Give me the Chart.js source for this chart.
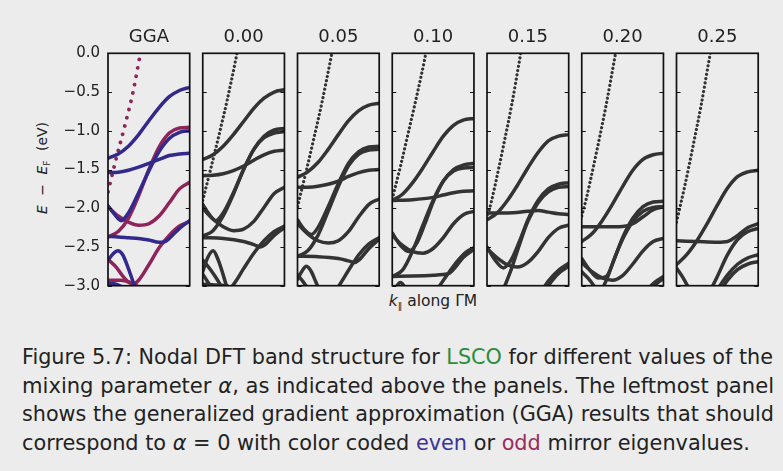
<!DOCTYPE html>
<html>
<head>
<meta charset="utf-8">
<script src="https://cdn.jsdelivr.net/npm/chart.js@4.4.0/dist/chart.umd.min.js"></script>
<style>
    body { margin: 0; background: #ececec; width: 783px; height: 471px; overflow: hidden; position: relative; font-family: "DejaVu Sans", sans-serif; color: #222; }
    canvas.panel { position: absolute; left: 0; top: 0; pointer-events: none; }
    .lab { position: absolute; white-space: nowrap; transform: translate(-50%, -50%); }
    #ylab { left: 43px; top: 168px; transform: translate(-50%, -50%) rotate(-90deg); font-size: 14px; word-spacing: 5px; }
    #xlab { left: 433px; top: 301px; font-size: 15.5px; }
    sub { font-size: 9px; vertical-align: -3px; font-family: "DejaVu Sans", sans-serif; color: #222; }
    #caption { position: absolute; left: 0; top: 0; }
</style>
</head>
<body>
<div id="ylab" class="lab"><i>E</i> − <i>E</i><sub>F</sub> (eV)</div>
<div id="xlab" class="lab"><i>k</i><sub>‖</sub> along ΓM</div>
<svg id="caption" width="783" height="471" font-family="'Liberation Sans Narrow', 'DejaVu Sans', sans-serif" font-size="22" fill="#222">
    <text x="22" y="364" textLength="751" lengthAdjust="spacingAndGlyphs">Figure 5.7: Nodal DFT band structure for <tspan fill="#2e8b3c">LSCO</tspan> for different values of the</text>
    <text x="22" y="393" textLength="752" lengthAdjust="spacingAndGlyphs">mixing parameter <tspan font-style="italic">α</tspan>, as indicated above the panels.  The leftmost panel</text>
    <text x="22" y="421" textLength="752" lengthAdjust="spacingAndGlyphs">shows the generalized gradient approximation (GGA) results that should</text>
    <text x="22" y="450" textLength="728" lengthAdjust="spacingAndGlyphs">correspond to <tspan font-style="italic">α</tspan> = 0 with color coded <tspan fill="#3b3399">even</tspan> or <tspan fill="#9a2b5c">odd</tspan> mirror eigenvalues.</text>
</svg>

<script>
// panel titles and energy ticks
const panelTitles = ['GGA', '0.00', '0.05', '0.10', '0.15', '0.20', '0.25'];
const yTicks = [0, -0.5, -1.0, -1.5, -2.0, -2.5, -3.0];

// bands as [k, E] pairs, k from Gamma (0) to M (1), E - E_F in eV
const ggaEven = [
    [[0,-1.355],[0.125,-1.3],[0.25,-1.2],[0.375,-1.05],[0.5,-0.87],[0.625,-0.7],[0.75,-0.56],[0.875,-0.48],[1,-0.44]],
    [[0,-1.54],[0.125,-1.535],[0.25,-1.51],[0.375,-1.47],[0.5,-1.42],[0.625,-1.37],[0.75,-1.32],[0.875,-1.3],[1,-1.29]],
    [[0,-1.97],[0.08,-2.08],[0.16,-2.16],[0.25,-2.06],[0.375,-1.8],[0.5,-1.52],[0.625,-1.27],[0.75,-1.1],[0.875,-1.02],[1,-1.0]],
    [[0,-2.365],[0.125,-2.37],[0.25,-2.38],[0.375,-2.39],[0.5,-2.41],[0.625,-2.44],[0.7,-2.43],[0.75,-2.39],[0.875,-2.26],[1,-2.16]],
    [[0,-2.67],[0.06,-2.59],[0.12,-2.55],[0.18,-2.6],[0.24,-2.75],[0.3,-2.93],[0.34,-3.05]],
    [[0,-2.97],[0.1,-2.98],[0.2,-3.03]]
];
const ggaOdd = [
    [[0,-2.37],[0.125,-2.3],[0.25,-2.13],[0.375,-1.84],[0.5,-1.5],[0.625,-1.21],[0.75,-1.03],[0.875,-0.965],[1,-0.955]],
    [[0,-1.98],[0.125,-2.1],[0.25,-2.18],[0.375,-2.22],[0.5,-2.2],[0.625,-2.1],[0.75,-1.93],[0.875,-1.75],[1,-1.665]],
    [[0,-2.66],[0.1,-2.76],[0.2,-2.9],[0.3,-2.98],[0.375,-2.93],[0.5,-2.73],[0.625,-2.51],[0.75,-2.35],[0.875,-2.23],[1,-2.17]],
    [[0,-2.93],[0.15,-2.93],[0.3,-2.97],[0.4,-3.03]]
];
const ggaSteep = [[0,-1.79],[0.1,-1.36],[0.2,-0.96],[0.3,-0.53],[0.4,0.02],[0.45,0.3]];

const bands000 = [
    [[0,-1.37],[0.125,-1.31],[0.25,-1.2],[0.375,-1.05],[0.5,-0.88],[0.625,-0.71],[0.75,-0.58],[0.875,-0.5],[1,-0.47]],
    [[0,-1.58],[0.125,-1.575],[0.25,-1.555],[0.375,-1.515],[0.5,-1.455],[0.625,-1.38],[0.75,-1.31],[0.875,-1.265],[1,-1.25]],
    [[0,-1.95],[0.08,-2.08],[0.16,-2.16],[0.25,-2.06],[0.375,-1.8],[0.5,-1.5],[0.625,-1.24],[0.75,-1.07],[0.875,-0.99],[1,-0.97]],
    [[0,-2.36],[0.125,-2.29],[0.25,-2.1],[0.375,-1.82],[0.5,-1.5],[0.625,-1.24],[0.75,-1.09],[0.875,-1.03],[1,-1.01]],
    [[0,-2.0],[0.125,-2.14],[0.25,-2.24],[0.375,-2.29],[0.5,-2.27],[0.625,-2.17],[0.75,-1.99],[0.875,-1.81],[1,-1.73]],
    [[0,-2.38],[0.25,-2.39],[0.5,-2.43],[0.625,-2.47],[0.7,-2.5],[0.75,-2.48],[0.875,-2.35],[1,-2.25]],
    [[0.33,-3.05],[0.4,-2.95],[0.5,-2.78],[0.625,-2.58],[0.75,-2.42],[0.875,-2.3],[1,-2.23]],
    [[0,-2.82],[0.06,-2.64],[0.127,-2.55],[0.19,-2.67],[0.25,-2.86],[0.3,-3.04]],
    [[0,-2.67],[0.1,-2.8],[0.2,-2.96],[0.24,-3.04]],
    [[0,-2.85],[0.06,-2.95],[0.12,-3.04]],
    [[0,-2.98],[0.15,-2.99],[0.3,-3.0]]
];
const steep000 = [[0,-1.9],[0.1,-1.48],[0.2,-1.05],[0.3,-0.6],[0.4,-0.1],[0.5,0.45]];

const bands005 = [
    [[0,-1.6],[0.125,-1.53],[0.25,-1.41],[0.375,-1.24],[0.5,-1.05],[0.625,-0.87],[0.75,-0.74],[0.875,-0.67],[1,-0.645]],
    [[0,-1.73],[0.125,-1.728],[0.25,-1.715],[0.375,-1.69],[0.5,-1.65],[0.625,-1.59],[0.75,-1.54],[0.875,-1.51],[1,-1.5]],
    [[0,-2.15],[0.08,-2.27],[0.17,-2.34],[0.25,-2.25],[0.375,-1.98],[0.5,-1.68],[0.625,-1.42],[0.75,-1.27],[0.875,-1.21],[1,-1.2]],
    [[0,-2.62],[0.125,-2.55],[0.25,-2.35],[0.375,-2.04],[0.5,-1.72],[0.625,-1.45],[0.75,-1.3],[0.875,-1.25],[1,-1.24]],
    [[0,-2.2],[0.125,-2.33],[0.25,-2.42],[0.375,-2.45],[0.5,-2.42],[0.625,-2.3],[0.75,-2.11],[0.875,-1.95],[1,-1.88]],
    [[0,-2.62],[0.25,-2.625],[0.5,-2.65],[0.625,-2.68],[0.7,-2.7],[0.75,-2.67],[0.875,-2.52],[1,-2.4]],
    [[0.47,-3.05],[0.52,-2.98],[0.625,-2.8],[0.75,-2.6],[0.875,-2.46],[1,-2.38]],
    [[0,-2.92],[0.05,-2.82],[0.11,-2.75],[0.17,-2.82],[0.22,-2.94],[0.26,-3.04]],
    [[0,-2.86],[0.07,-2.95],[0.13,-3.04]]
];
const steep005 = [[0,-1.98],[0.1,-1.55],[0.2,-1.1],[0.3,-0.63],[0.4,-0.11],[0.5,0.45]];

const bands010 = [
    [[0,-1.9],[0.125,-1.82],[0.25,-1.67],[0.375,-1.48],[0.5,-1.27],[0.625,-1.07],[0.75,-0.93],[0.875,-0.86],[1,-0.84]],
    [[0,-1.9],[0.25,-1.89],[0.5,-1.86],[0.625,-1.83],[0.75,-1.8],[0.875,-1.78],[1,-1.775]],
    [[0,-2.32],[0.1,-2.48],[0.2,-2.56],[0.3,-2.45],[0.4,-2.2],[0.5,-1.92],[0.625,-1.65],[0.75,-1.5],[0.875,-1.44],[1,-1.42]],
    [[0,-2.88],[0.125,-2.8],[0.25,-2.55],[0.375,-2.22],[0.5,-1.9],[0.625,-1.65],[0.75,-1.52],[0.875,-1.48],[1,-1.475]],
    [[0,-2.35],[0.125,-2.48],[0.25,-2.56],[0.375,-2.58],[0.5,-2.52],[0.625,-2.38],[0.75,-2.2],[0.875,-2.08],[1,-2.04]],
    [[0,-2.88],[0.25,-2.875],[0.5,-2.865],[0.625,-2.855],[0.7,-2.84],[0.75,-2.79],[0.875,-2.63],[1,-2.53]],
    [[0.55,-3.05],[0.6,-2.97],[0.7,-2.82],[0.8,-2.68],[0.9,-2.57],[1,-2.51]],
    [[0.03,-3.04],[0.1,-2.96],[0.17,-3.04]]
];
const steep010 = [[0,-1.88],[0.1,-1.46],[0.2,-1.01],[0.3,-0.55],[0.4,-0.06],[0.5,0.5]];

const bands015 = [
    [[0,-2.15],[0.125,-2.06],[0.25,-1.9],[0.375,-1.7],[0.5,-1.48],[0.625,-1.28],[0.75,-1.13],[0.875,-1.07],[1,-1.05]],
    [[0,-2.06],[0.25,-2.06],[0.5,-2.04],[0.625,-2.03],[0.75,-2.05],[0.875,-2.07],[1,-2.08]],
    [[0,-2.5],[0.1,-2.67],[0.2,-2.77],[0.3,-2.66],[0.4,-2.42],[0.5,-2.15],[0.625,-1.9],[0.75,-1.75],[0.875,-1.69],[1,-1.67]],
    [[0.2,-3.05],[0.3,-2.78],[0.4,-2.46],[0.5,-2.17],[0.625,-1.93],[0.75,-1.79],[0.875,-1.73],[1,-1.72]],
    [[0,-2.52],[0.125,-2.64],[0.25,-2.73],[0.375,-2.76],[0.5,-2.7],[0.625,-2.56],[0.75,-2.38],[0.875,-2.26],[1,-2.22]],
    [[0.68,-3.05],[0.75,-2.94],[0.875,-2.8],[1,-2.71]],
    [[0.72,-3.05],[0.8,-2.93],[0.9,-2.82],[1,-2.75]]
];
const steep015 = [[0,-2.13],[0.05,-1.93],[0.1,-1.7],[0.2,-1.2],[0.3,-0.68],[0.4,-0.08],[0.5,0.5]];

const bands020 = [
    [[0,-2.43],[0.125,-2.33],[0.25,-2.16],[0.375,-1.95],[0.5,-1.72],[0.625,-1.51],[0.75,-1.37],[0.875,-1.31],[1,-1.29]],
    [[0,-2.24],[0.25,-2.24],[0.5,-2.235],[0.625,-2.2],[0.75,-2.11],[0.875,-2.02],[1,-1.98]],
    [[0,-2.65],[0.1,-2.8],[0.2,-2.9],[0.3,-2.88],[0.4,-2.65],[0.5,-2.38],[0.625,-2.13],[0.75,-1.98],[0.875,-1.92],[1,-1.91]],
    [[0.25,-3.05],[0.32,-2.88],[0.4,-2.65],[0.5,-2.4],[0.625,-2.17],[0.75,-2.04],[0.875,-1.99],[1,-1.98]],
    [[0,-2.7],[0.125,-2.82],[0.25,-2.9],[0.375,-2.93],[0.5,-2.87],[0.625,-2.72],[0.75,-2.55],[0.875,-2.43],[1,-2.39]],
    [[0.8,-3.05],[0.9,-2.95],[1,-2.88]],
    [[0.85,-3.05],[0.93,-2.96],[1,-2.91]],
    [[0,-2.82],[0.1,-2.93],[0.18,-3.05]]
];
const steep020 = [[0,-2.1],[0.05,-1.9],[0.1,-1.67],[0.2,-1.18],[0.3,-0.66],[0.4,-0.08],[0.5,0.5]];

const bands025 = [
    [[0,-2.73],[0.125,-2.6],[0.25,-2.42],[0.375,-2.2],[0.5,-1.96],[0.625,-1.74],[0.75,-1.59],[0.875,-1.53],[1,-1.51]],
    [[0,-2.42],[0.25,-2.43],[0.5,-2.44],[0.625,-2.43],[0.75,-2.35],[0.875,-2.25],[1,-2.2]],
    [[0.42,-3.05],[0.5,-2.88],[0.625,-2.6],[0.75,-2.4],[0.875,-2.3],[1,-2.26]],
    [[0.5,-3.05],[0.625,-2.86],[0.75,-2.72],[0.875,-2.64],[1,-2.6]],
    [[0.55,-3.05],[0.625,-2.93],[0.75,-2.79],[0.875,-2.72],[1,-2.69]],
    [[0,-2.77],[0.07,-2.88],[0.15,-3.03]]
];
const steep025 = [[0,-2.18],[0.05,-1.95],[0.1,-1.72],[0.2,-1.21],[0.3,-0.68],[0.4,-0.08],[0.5,0.5]];

// layout of the figure (pixels)
const W = 783, H = 310;
const plotTop = 53.3, plotBottom = 285.7, plotW = 81.7;
const panelLeft = [108, 202.75, 297.5, 392.25, 487, 581.75, 676.5];

const EVEN = '#33298c', ODD = '#8e2459', GREY = '#333333';

const toXY = band => band.map(p => ({ x: p[0], y: p[1] }));

function solid(band, color) {
    return { data: toXY(band), borderColor: color, borderWidth: 3.5, borderCapStyle: 'round',
             cubicInterpolationMode: 'monotone', pointRadius: 0, fill: false, clip: 0 };
}
function dotted(band, color, width, gap) {
    return { data: toXY(band), borderColor: color, borderWidth: width, borderCapStyle: 'round',
             borderDash: [0.01, gap], cubicInterpolationMode: 'monotone', pointRadius: 0, fill: false, clip: 0 };
}

const panels = [
    [...ggaEven.map(b => solid(b, EVEN)), ...ggaOdd.map(b => solid(b, ODD)), dotted(ggaSteep, ODD, 3.8, 8.5)],
    [...bands000.map(b => solid(b, GREY)), dotted(steep000, GREY, 3.2, 4.3)],
    [...bands005.map(b => solid(b, GREY)), dotted(steep005, GREY, 3.2, 4.3)],
    [...bands010.map(b => solid(b, GREY)), dotted(steep010, GREY, 3.2, 4.3)],
    [...bands015.map(b => solid(b, GREY)), dotted(steep015, GREY, 3.2, 4.3)],
    [...bands020.map(b => solid(b, GREY)), dotted(steep020, GREY, 3.2, 4.3)],
    [...bands025.map(b => solid(b, GREY)), dotted(steep025, GREY, 3.2, 4.3)]
];

// frame, inward ticks and panel title
const framePlugin = {
    id: 'panelFrame',
    afterDatasetsDraw(chart, args, opts) {
        const ctx = chart.ctx;
        const a = chart.chartArea;
        const y = chart.scales.y;
        ctx.save();
        ctx.strokeStyle = '#111';
        ctx.lineWidth = 1;
        yTicks.forEach(v => {
            const py = Math.round(y.getPixelForValue(v)) + 0.5;
            ctx.beginPath();
            ctx.moveTo(a.left, py); ctx.lineTo(a.left + 4, py);
            ctx.moveTo(a.right - 4, py); ctx.lineTo(a.right, py);
            ctx.stroke();
        });
        ctx.lineWidth = 1.7;
        ctx.strokeRect(a.left, a.top, a.right - a.left, a.bottom - a.top);
        ctx.fillStyle = '#222';
        ctx.font = '18px "DejaVu Sans"';
        ctx.textAlign = 'center';
        ctx.textBaseline = 'alphabetic';
        ctx.fillText(opts.title, (a.left + a.right) / 2, 41.5);
        ctx.restore();
    }
};

panels.forEach(function(datasets, i) {
    const canvas = document.createElement('canvas');
    canvas.className = 'panel';
    canvas.width = W;
    canvas.height = H;
    document.body.appendChild(canvas);
    const isGGA = i === 0;
    const yScale = {
        type: 'linear', min: -3, max: 0,
        display: isGGA,
        grid: { display: false, drawTicks: false },
        border: { display: false },
        afterBuildTicks: s => { s.ticks = yTicks.map(v => ({ value: v })); },
        ticks: {
            padding: 8,
            color: '#222',
            font: { family: 'DejaVu Sans', size: 15 },
            callback: v => (v < 0 ? '\u2212' : '') + Math.abs(v).toFixed(1)
        }
    };
    if (isGGA) {
        yScale.afterFit = s => { s.width = panelLeft[0]; };
    }
    new Chart(canvas.getContext('2d'), {
        type: 'line',
        data: { datasets: datasets },
        options: {
            responsive: false,
            animation: false,
            events: [],
            layout: {
                padding: {
                    left: isGGA ? 0 : panelLeft[i],
                    right: W - panelLeft[i] - plotW,
                    top: plotTop,
                    bottom: H - plotBottom
                }
            },
            plugins: {
                legend: { display: false },
                tooltip: { enabled: false },
                panelFrame: { title: panelTitles[i] }
            },
            scales: {
                x: { type: 'linear', min: 0, max: 1, display: false },
                y: yScale
            }
        },
        plugins: [framePlugin]
    });
});
</script>
</body>
</html>
